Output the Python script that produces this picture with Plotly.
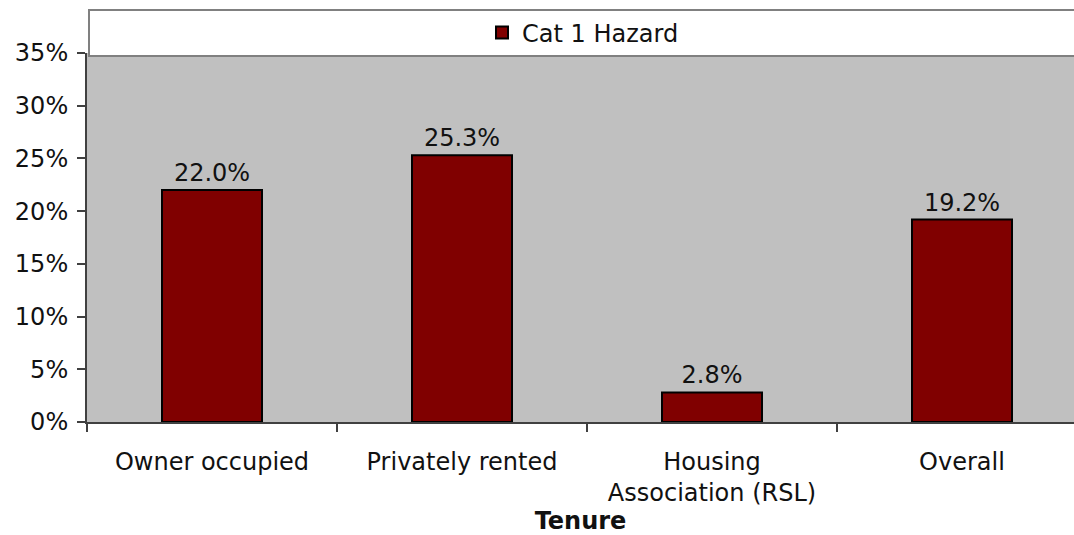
import plotly.graph_objects as go

categories = ["Owner occupied", "Privately rented", "Housing<br>Association (RSL)", "Overall"]
values = [22.0, 25.3, 2.8, 19.2]
labels = ["22.0%", "25.3%", "2.8%", "19.2%"]
series_name = "Cat 1 Hazard"
y_ticks = [0, 5, 10, 15, 20, 25, 30, 35]
y_tick_text = ["0%", "5%", "10%", "15%", "20%", "25%", "30%", "35%"]

FONT = "DejaVu Sans"
W, H = 1074, 535
ML, MT, MB = 87, 53, 113
plot_h = H - MT - MB

fig = go.Figure()
fig.add_trace(go.Bar(
    x=categories, y=values, name=series_name,
    text=labels, textposition="outside",
    textfont=dict(family=FONT, size=24, color="#111111"),
    marker=dict(color="#800000", line=dict(color="#000000", width=2)),
    width=0.4, cliponaxis=False,
))

def py(p):
    return (H - MB - p) / plot_h

fig.add_shape(type="rect", xref="paper", yref="paper",
              x0=(89 - ML) / (W - ML), x1=1.02, y0=py(56), y1=py(10),
              fillcolor="#FFFFFF", line=dict(color="#808080", width=2), layer="above")

fig.update_layout(
    width=W, height=H,
    margin=dict(l=ML, r=0, t=MT, b=MB, pad=0),
    paper_bgcolor="#FFFFFF", plot_bgcolor="#C0C0C0",
    font=dict(family=FONT, size=24, color="#111111"),
    showlegend=True,
    legend=dict(x=(482 - ML) / (W - ML), xanchor="left", y=py(33), yanchor="middle",
                bgcolor="rgba(0,0,0,0)", font=dict(family=FONT, size=24, color="#111111"),
                itemwidth=30, borderwidth=0),
    bargap=0.6,
    xaxis=dict(range=[-0.5, 3.448], tickson="boundaries", ticks="outside", ticklen=8,
               tickcolor="#404040", tickwidth=1.5, showline=True, linecolor="#404040", linewidth=2,
               showgrid=False, tickfont=dict(family=FONT, size=24, color="#111111"),
               ticklabelstandoff=17,
               title=dict(text="<b>Tenure</b>", font=dict(family=FONT, size=24, color="#111111"),
                          standoff=4),
               automargin=False),
    yaxis=dict(range=[0, 35], tickvals=y_ticks, ticktext=y_tick_text, ticks="outside", ticklen=8,
               tickcolor="#404040", tickwidth=1.5, showline=True, linecolor="#404040", linewidth=2,
               showgrid=False, zeroline=False, tickfont=dict(family=FONT, size=24, color="#111111"),
               ticklabelstandoff=4, automargin=False),
)

fig.write_html("out.html")
